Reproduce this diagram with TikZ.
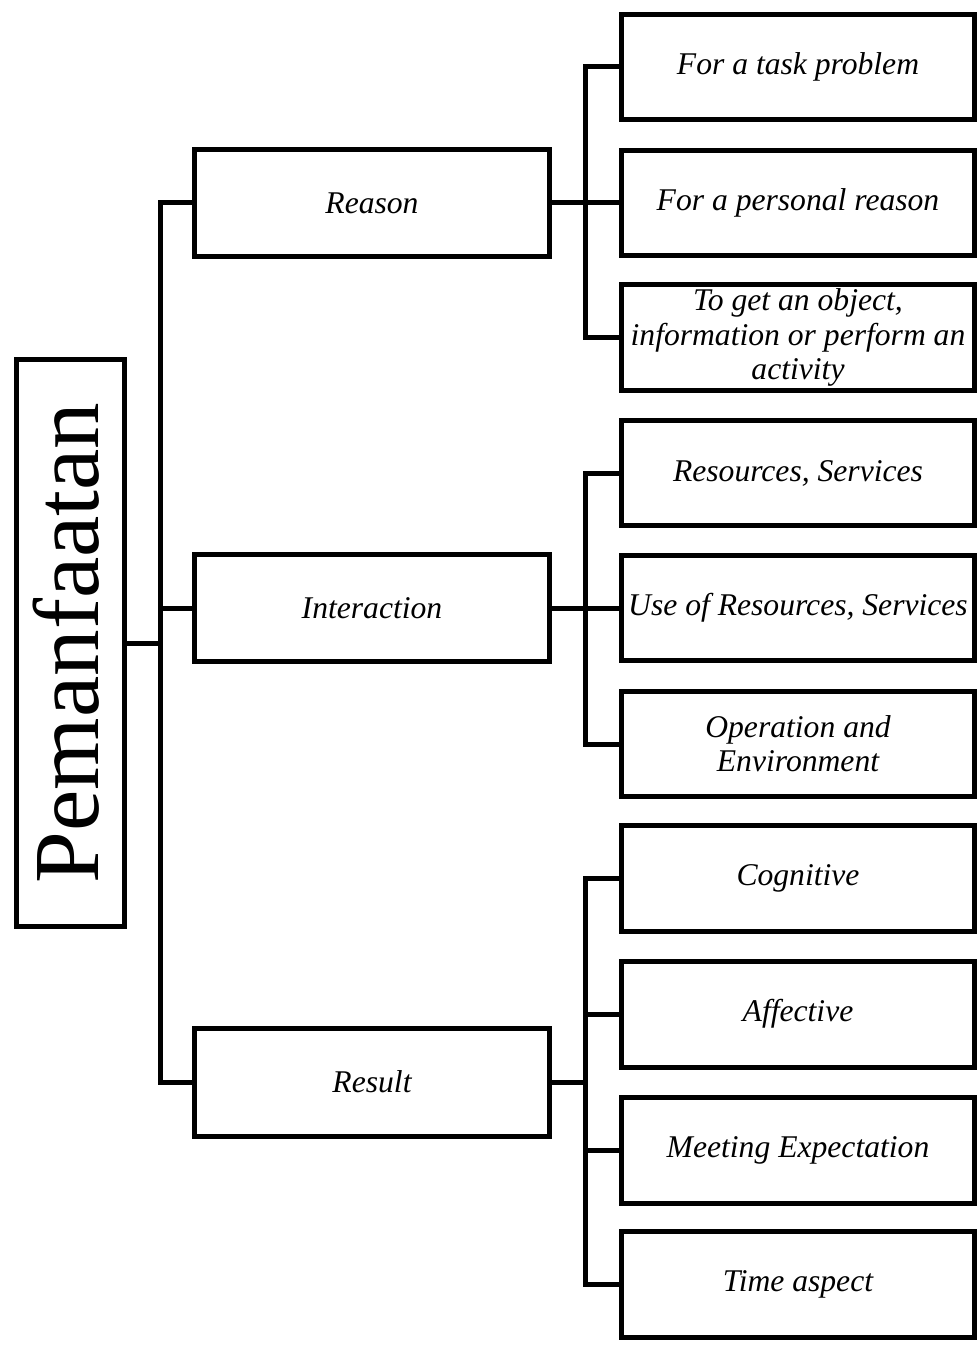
\documentclass[tikz,border=0pt]{standalone}
\usepackage{fontspec}
\setmainfont{Liberation Serif}

\tikzset{
    mainbox/.style={draw, line width=0.1cm, fill=white, minimum width=2.16cm, minimum height=11.36cm, inner sep=0pt, font=\fontsize{53}{53}\selectfont},
    catbox/.style={draw, line width=0.1cm, fill=white, minimum width=7.12cm, minimum height=2.16cm, font=\fontsize{18}{19.5}\selectfont\itshape},
    itembox/.style={draw, line width=0.1cm, fill=white, minimum width=7.07cm, minimum height=2.12cm, align=center, inner sep=1pt, font=\fontsize{18}{19.5}\selectfont\itshape},
    link/.style={line width=0.1cm}
}

\begin{document}
\begin{tikzpicture}[x=0.02cm, y=-0.02cm]
    \useasboundingbox (0,0) rectangle (977,1348);

    % Main box
    \node[mainbox] (main) at (70.5,643) {\rotatebox{90}{\raisebox{0pt}[\height][6pt]{Pemanfaatan}}};

    % Three categories
    \node[catbox] (reason) at (372,203) {Reason};
    \node[catbox] (interaction) at (372,608) {Interaction};
    \node[catbox] (result) at (372,1082) {Result};

    % Reason items
    \node[itembox] (task) at (798,67) {For a task problem};
    \node[itembox] (personal) at (798,203) {For a personal reason};
    \node[itembox] (object) at (798,337.5) {To get an object,\\ information or perform an\\ activity};

    % Interaction items
    \node[itembox] (resources) at (798,473) {Resources, Services};
    \node[itembox] (use) at (798,608) {Use of Resources, Services};
    \node[itembox] (operation) at (798,744) {Operation and\\ Environment};

    % Result items
    \node[itembox] (cognitive) at (798,878.5) {Cognitive};
    \node[itembox] (affective) at (798,1014) {Affective};
    \node[itembox] (meeting) at (798,1150) {Meeting Expectation};
    \node[itembox] (time) at (798,1284.5) {Time aspect};

    % Junctions
    \coordinate (trunk) at (160,643);
    \coordinate (jreason) at (585.5,203);
    \coordinate (jinter) at (585.5,608);
    \coordinate (jresult) at (585.5,1082);

    % Main to categories
    \draw[link] (main.east) -- (trunk);
    \draw[link] (reason.west) -| (trunk) |- (result.west);
    \draw[link] (interaction.west) -| (trunk);

    % Categories to items
    \draw[link] (reason.east) -- (personal.west);
    \draw[link] (task.west) -| (jreason) |- (object.west);

    \draw[link] (interaction.east) -- (use.west);
    \draw[link] (resources.west) -| (jinter) |- (operation.west);

    \draw[link] (result.east) -- (jresult);
    \draw[link] (cognitive.west) -| (jresult) |- (time.west);
    \draw[link] (affective.west) -| (jresult);
    \draw[link] (meeting.west) -| (jresult);
\end{tikzpicture}
\end{document}
